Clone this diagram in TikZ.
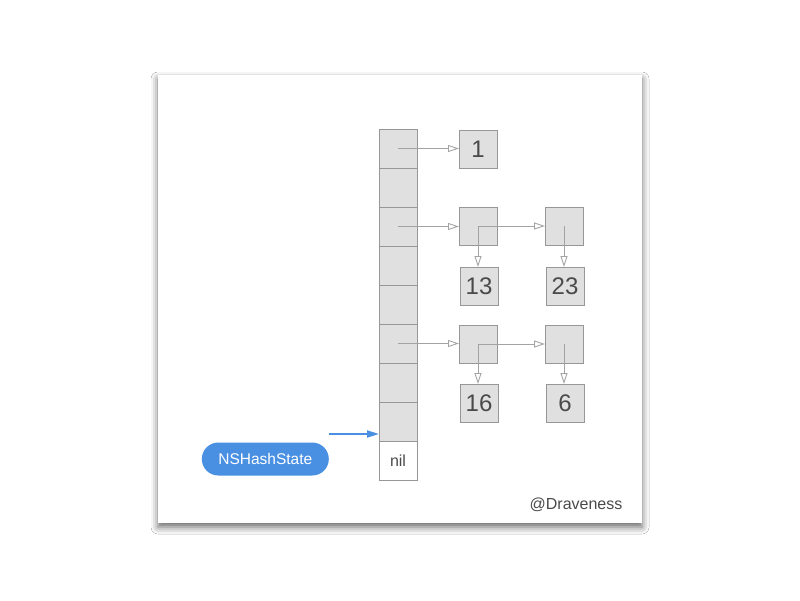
\documentclass[tikz,border=0pt]{standalone}
\usepackage{fontspec}
\setmainfont{Liberation Sans}
\usetikzlibrary{arrows.meta,shadows.blur}
\definecolor{cellfill}{HTML}{E0E0E0}
\definecolor{celldraw}{HTML}{979797}
\definecolor{linegray}{HTML}{A3A3A3}
\definecolor{txtgray}{HTML}{4A4A4A}
\definecolor{nsblue}{HTML}{4A90E2}
\begin{document}
\begin{tikzpicture}[x=1pt,y=-1pt,
  cell/.style={draw=celldraw, fill=cellfill, line width=1pt, minimum width=38pt, minimum height=39pt, inner sep=0pt, outer sep=0pt},
  nilcell/.style={cell, fill=white, font=\fontsize{16}{16}\selectfont, text=txtgray},
  box/.style={draw=celldraw, fill=cellfill, line width=1pt, minimum width=38pt, minimum height=38pt, inner sep=0pt, outer sep=0pt, font=\fontsize{24}{24}\selectfont, text=txtgray},
  ptr/.style={draw=linegray, line width=0.9pt, -{Triangle[open, length=11pt, width=7pt]}},
  bluearrow/.style={draw=nsblue, line width=1.8pt, -{Triangle[length=12pt, width=7pt]}},
  pill/.style={fill=nsblue, rounded corners=16.5pt, minimum width=127pt, minimum height=33pt, inner sep=0pt, text=white, font=\fontsize{15.5}{15.5}\selectfont},
  sig/.style={text=txtgray, font=\fontsize{16}{16}\selectfont, inner sep=0pt}
]
\useasboundingbox (0,0) rectangle (800,600);
\fill[white] (0,0) rectangle (800,600);
\fill[white, blur shadow={shadow xshift=0pt, shadow yshift=-4pt, shadow blur radius=7pt, shadow opacity=60}] (158,75) rectangle (642,523);

% array cells
\node[cell] (c1) at (398,148.5) {};
\node[cell] (c2) at (398,187.5) {};
\node[cell] (c3) at (398,226.5) {};
\node[cell] (c4) at (398,265.5) {};
\node[cell] (c5) at (398,304.5) {};
\node[cell] (c6) at (398,343.5) {};
\node[cell] (c7) at (398,382.5) {};
\node[cell] (c8) at (398,421.5) {};
\node[nilcell] (c9) at (398,460.5) {nil};

% list nodes
\node[box] (n1) at (478,149) {1};
\node[box] (a2) at (478,226) {};
\node[box] (b2) at (564,226) {};
\node[box] (n13) at (479,286) {13};
\node[box] (n23) at (565,286) {23};
\node[box] (a3) at (478,344) {};
\node[box] (b3) at (564,344) {};
\node[box] (n16) at (479,403) {16};
\node[box] (n6) at (565,403) {6};

% pointers
\draw[ptr] (c1.center) -- (c1.center -| n1.west);
\draw[ptr] (c3.center) -- (c3.center -| a2.west);
\draw[ptr] (a2.center) -- (a2.center -| b2.west);
\draw[ptr] (a2.center) -- (a2.center |- n13.north);
\draw[ptr] (b2.center) -- (b2.center |- n23.north);
\draw[ptr] (c6.center) -- (c6.center -| a3.west);
\draw[ptr] (a3.center) -- (a3.center -| b3.west);
\draw[ptr] (a3.center) -- (a3.center |- n16.north);
\draw[ptr] (b3.center) -- (b3.center |- n6.north);

% NSHashState
\node[pill] (ns) at (265.3,459) {NSHashState};
\coordinate (bs) at (329,434);
\draw[bluearrow] (bs) -- (bs -| c8.west);

\node[sig] (sig) at (576,505) {@Draveness};
\end{tikzpicture}
\end{document}
